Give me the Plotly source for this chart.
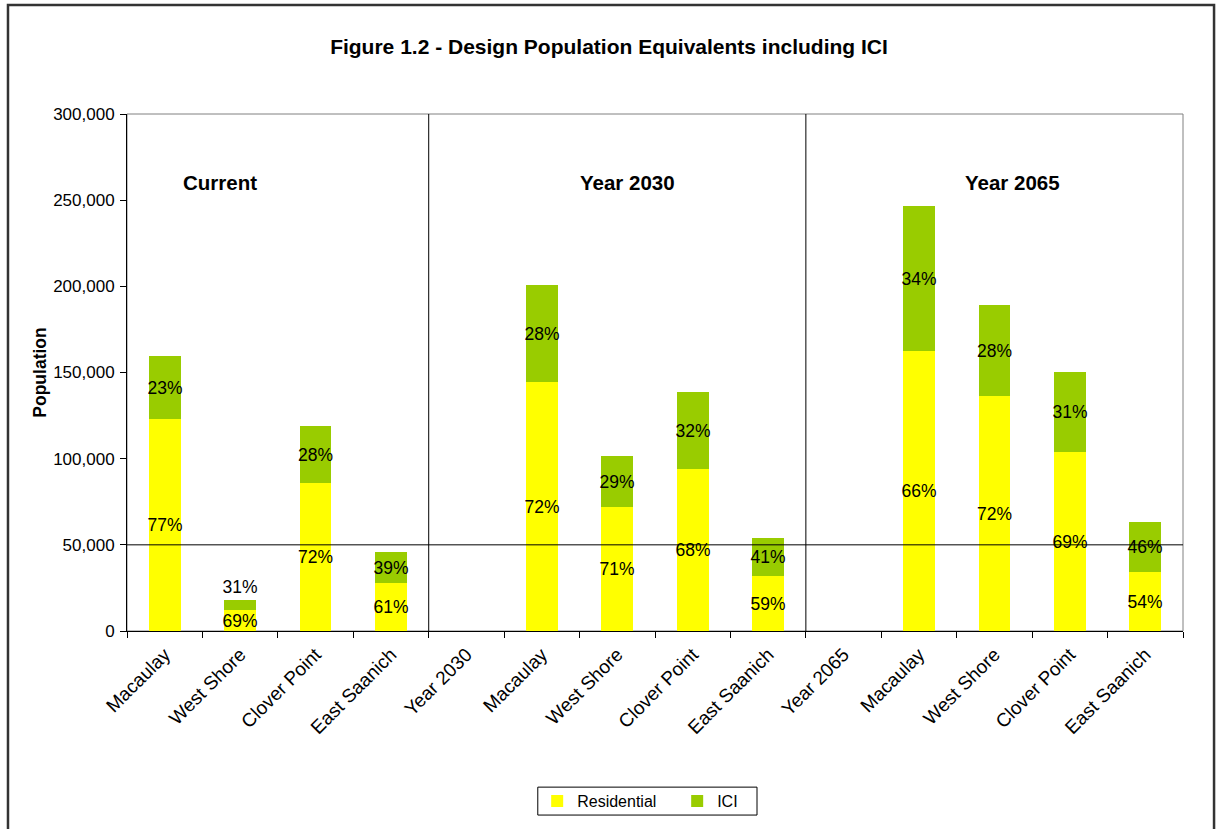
import plotly.graph_objects as go

# Category labels along the x axis (group header slots included)
categories = [
    "Macaulay", "West Shore", "Clover Point", "East Saanich",
    "Year 2030", "Macaulay", "West Shore", "Clover Point", "East Saanich",
    "Year 2065", "Macaulay", "West Shore", "Clover Point", "East Saanich",
]
# Total design population equivalents per category (None = empty slot)
totals = [
    159500, 18000, 119000, 46000,
    None, 200500, 101500, 138500, 54000,
    None, 246500, 189000, 150500, 63500,
]
# Residential share of each total, in percent
residential_pct = [
    77, 69, 72, 61,
    None, 72, 71, 68, 59,
    None, 66, 72, 69, 54,
]
group_names = ["Current", "Year 2030", "Year 2065"]
group_label_x = [0.73, 6.13, 11.24]
group_breaks = [3.5, 8.5]
y_ticks = [0, 50000, 100000, 150000, 200000, 250000, 300000]

x_pos = list(range(len(categories)))
res_vals, ici_vals, res_text, ici_text = [], [], [], []
for t, p in zip(totals, residential_pct):
    if t is None:
        res_vals.append(None); ici_vals.append(None)
        res_text.append(""); ici_text.append("")
    else:
        r = t * p / 100
        res_vals.append(r); ici_vals.append(t - r)
        res_text.append(f"{p}%"); ici_text.append(f"{100 - p}%")

# ICI segments too thin to hold their label get it placed above the bar
ici_positions = []
for v in ici_vals:
    ici_positions.append("outside" if (v is not None and v < 10000) else "inside")

FONT = "Liberation Sans, Arial, sans-serif"

fig = go.Figure()
fig.add_trace(go.Bar(
    x=x_pos, y=res_vals, name="Residential", marker_color="#FFFF00",
    marker_line_width=0, width=0.42,
    text=res_text, textposition="inside", insidetextanchor="middle",
    constraintext="none", textangle=0,
    textfont=dict(family=FONT, size=17.5, color="black"),
))
fig.add_trace(go.Bar(
    x=x_pos, y=ici_vals, name="ICI", marker_color="#99CC00",
    marker_line_width=0, width=0.42,
    text=ici_text, textposition=ici_positions, insidetextanchor="middle",
    constraintext="none", textangle=0,
    textfont=dict(family=FONT, size=17.5, color="black"),
    cliponaxis=False,
))

# Plot-area frame (top and right edges in grey)
fig.add_shape(type="rect", xref="paper", yref="paper", x0=0, x1=1, y0=0, y1=1,
              line=dict(color="#808080", width=1), layer="below")
# Outer chart border
fig.add_shape(type="rect", xref="paper", yref="paper",
              x0=-0.1127, x1=1.0294, y0=-0.45, y1=1.211,
              line=dict(color="#333333", width=2.5))
# Legend box
fig.add_shape(type="rect", xref="paper", yref="paper",
              x0=0.389, x1=0.5966, y0=-0.356, y1=-0.302,
              line=dict(color="black", width=1), fillcolor="white", layer="below")

# Separators between the time periods and the 50,000 reference line
for xb in group_breaks:
    fig.add_shape(type="line", xref="x", yref="y", x0=xb, x1=xb, y0=0, y1=300000,
                  line=dict(color="black", width=1))
fig.add_shape(type="line", xref="paper", yref="y", x0=0, x1=1, y0=50000, y1=50000,
              line=dict(color="black", width=1))

for name, gx in zip(group_names, group_label_x):
    fig.add_annotation(x=gx, y=260000, xref="x", yref="y", text=f"<b>{name}</b>",
                       showarrow=False, font=dict(family=FONT, size=20.5, color="black"))

fig.update_layout(
    barmode="stack",
    width=1218, height=829,
    margin=dict(l=127, r=35, t=114, b=198, autoexpand=False),
    paper_bgcolor="white", plot_bgcolor="white",
    font=dict(family=FONT, size=17, color="black"),
    title=dict(text="<b>Figure 1.2 - Design Population Equivalents including ICI</b>",
               x=0.5, xanchor="center", y=0.944, yanchor="middle",
               font=dict(family=FONT, size=21, color="black")),
    showlegend=True,
    legend=dict(orientation="h", x=0.521, xanchor="center", y=-0.329, yanchor="middle",
                borderwidth=0, bgcolor="rgba(0,0,0,0)",
                font=dict(family=FONT, size=16), itemwidth=30,
                traceorder="normal", entrywidth=95),
    bargap=0,
)
fig.update_xaxes(
    range=[-0.5, len(categories) - 0.5], automargin=False,
    tickmode="array", tickvals=x_pos, ticktext=categories, tickangle=-45,
    ticks="", showgrid=False, zeroline=False, ticklabelstandoff=4,
    showline=True, linecolor="black", linewidth=1,
    minor=dict(tickmode="array", tickvals=[i + 0.5 for i in range(-1, len(categories))],
               ticks="outside", ticklen=6, tickcolor="black", showgrid=False),
    tickfont=dict(family=FONT, size=19),
)
fig.update_yaxes(
    range=[0, 300000], automargin=False, tickmode="array", tickvals=y_ticks,
    ticktext=[f"{v:,}" for v in y_ticks],
    ticks="outside", ticklen=6, tickcolor="black", ticklabelstandoff=2,
    showgrid=False, zeroline=False,
    showline=True, linecolor="black", linewidth=1,
    title=dict(text="<b>Population</b>", font=dict(family=FONT, size=17.5), standoff=2),
    tickfont=dict(family=FONT, size=17),
)

fig.write_html("out.html")
